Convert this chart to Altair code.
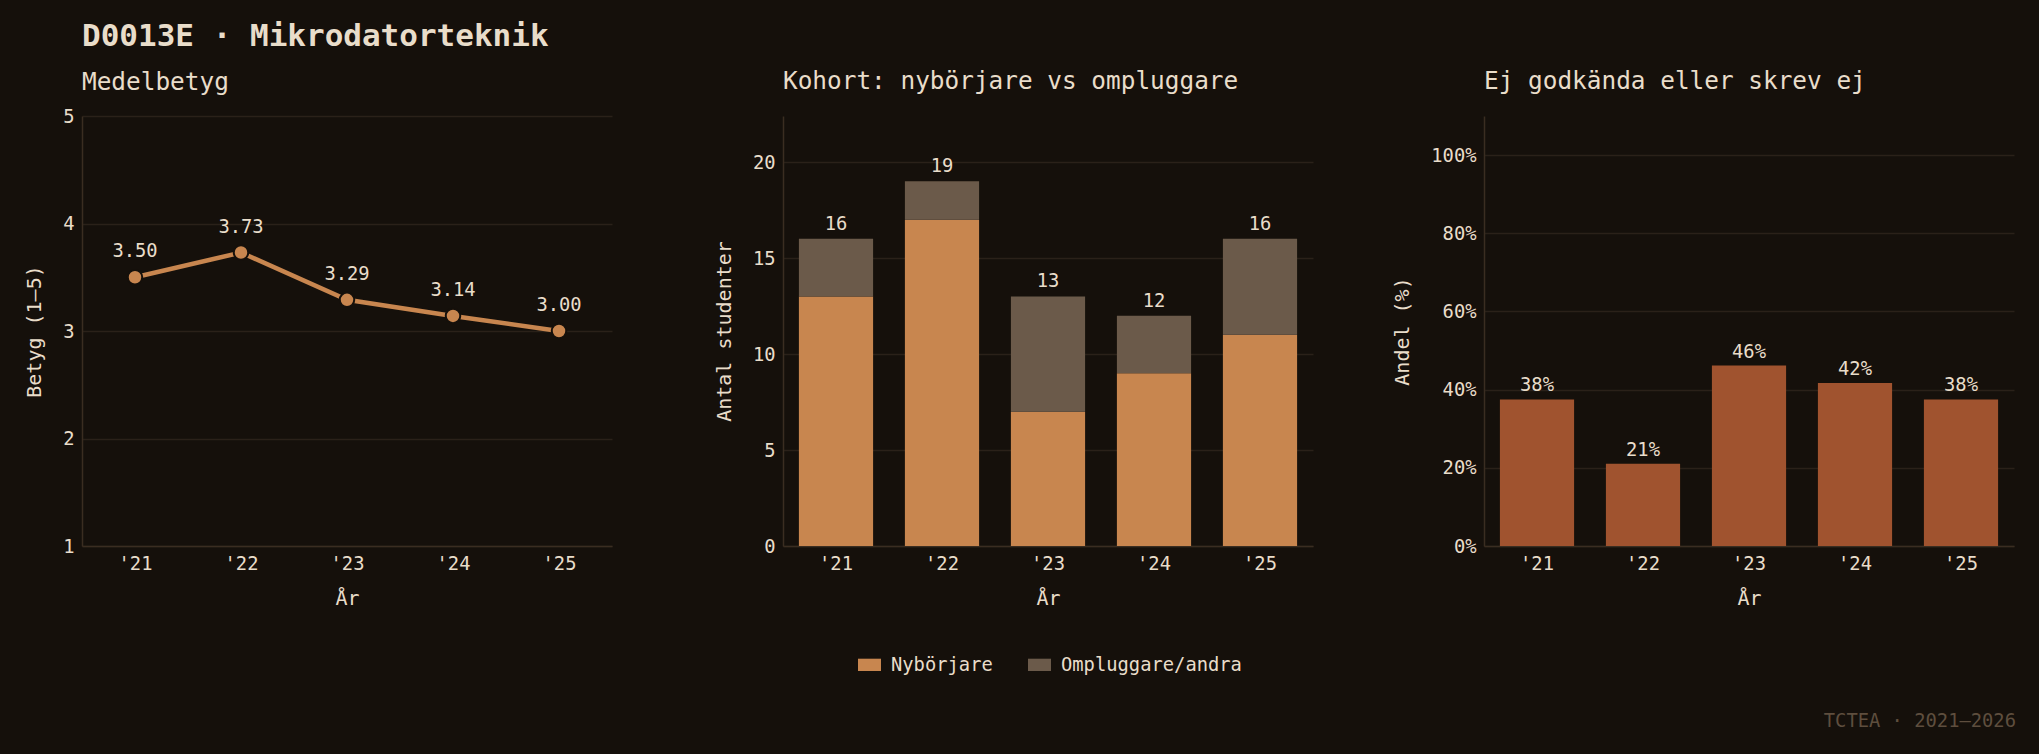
import altair as alt
import pandas as pd

# ---- data ----
years = ["'21", "'22", "'23", "'24", "'25"]
avg_grade = [3.50, 3.73, 3.29, 3.14, 3.00]
new_students = [13, 17, 7, 9, 11]
returning = [3, 2, 6, 3, 5]
failed_or_absent = [6, 4, 6, 5, 6]
groups = ["Nybörjare", "Ompluggare/andra"]
footer = ["TCTEA · 2021–2026"]

# ---- style ----
BG = "#15100b"
TEXT = "#e9ddca"
ORANGE = "#c8864f"
GREY = "#6b5a4a"
SIENNA = "#a0532f"
GRID = "#2a2119"
DOMAIN = "#3a2d21"
MUTED = "#5e4e3e"
FONT = "DejaVu Sans Mono"
FS = 18.8
W, H = 530, 430

totals = [a + b for a, b in zip(new_students, returning)]
grade_df = pd.DataFrame({"year": years, "grade": avg_grade})
cohort_df = pd.DataFrame({
    "year": years * 2,
    "group": [groups[0]] * 5 + [groups[1]] * 5,
    "count": new_students + returning,
    "ord": [0] * 5 + [1] * 5,
})
total_df = pd.DataFrame({"year": years, "total": totals})
fail_df = pd.DataFrame({"year": years,
                        "rate": [f / t for f, t in zip(failed_or_absent, totals)]})
footer_df = pd.DataFrame({"t": footer})


def panel_title(text, offset=22):
    return alt.TitleParams(text, anchor="start", frame="group", fontSize=24.4,
                           fontWeight="normal", font=FONT, color=TEXT, offset=offset)


# ---- panel 1: line ----
x1 = alt.X("year:N", sort=years, title="År", axis=alt.Axis(labelAngle=0))
y1 = alt.Y("grade:Q", scale=alt.Scale(domain=[1, 5]),
           axis=alt.Axis(values=[1, 2, 3, 4, 5], title="Betyg (1–5)"))
base1 = alt.Chart(grade_df).encode(x=x1, y=y1)
line = base1.mark_line(color=ORANGE, strokeWidth=4.5)
pts = base1.mark_circle(color=ORANGE, size=210, opacity=1, stroke=BG, strokeWidth=2)
lbl1 = base1.mark_text(color=TEXT, fontSize=FS, dy=-20, baseline="alphabetic",
                       font=FONT).encode(text=alt.Text("grade:Q", format=".2f"))
p1 = alt.layer(line, pts, lbl1).properties(width=W, height=H,
                                           title=panel_title("Medelbetyg", 12))

# ---- panel 2: stacked bars ----
xb = alt.X("year:N", sort=years, title="År",
           scale=alt.Scale(paddingInner=0.3, paddingOuter=0.15),
           axis=alt.Axis(labelAngle=0))
y2axis = alt.Axis(values=[0, 5, 10, 15, 20], title="Antal studenter")
y2scale = alt.Scale(domain=[0, 22.4])
bars2 = alt.Chart(cohort_df).mark_bar().encode(
    x=xb,
    y=alt.Y("count:Q", stack="zero", scale=y2scale, axis=y2axis),
    color=alt.Color("group:N", scale=alt.Scale(domain=groups, range=[ORANGE, GREY]),
                    legend=alt.Legend(title=None, orient="none", legendX=75, legendY=537,
                                      direction="horizontal",
                                      symbolType="M-1,-0.535H1V0.535H-1Z",
                                      symbolSize=529, symbolStrokeWidth=0,
                                      labelFont=FONT, labelFontSize=FS, labelColor=TEXT,
                                      labelOffset=10, columnPadding=35, labelLimit=400)),
    order=alt.Order("ord:Q", sort="ascending"),
)
tot2 = alt.Chart(total_df).mark_text(color=TEXT, fontSize=FS, dy=-9,
                                     baseline="alphabetic", font=FONT).encode(
    x=xb, y=alt.Y("total:Q", scale=y2scale, axis=y2axis), text="total:Q")
p2 = alt.layer(bars2, tot2).properties(
    width=W, height=H, title=panel_title("Kohort: nybörjare vs ompluggare"))

# ---- panel 3: fail rate ----
y3scale = alt.Scale(domain=[0, 1.1])
y3axis = alt.Axis(values=[0, 0.2, 0.4, 0.6, 0.8, 1.0], format=".0%", title="Andel (%)")
bars3 = alt.Chart(fail_df).mark_bar(color=SIENNA).encode(
    x=xb, y=alt.Y("rate:Q", scale=y3scale, axis=y3axis))
lbl3 = alt.Chart(fail_df).mark_text(color=TEXT, fontSize=FS, dy=-8,
                                    baseline="alphabetic", font=FONT).encode(
    x=xb, y=alt.Y("rate:Q", scale=y3scale, axis=y3axis),
    text=alt.Text("rate:Q", format=".0%"))
foot = alt.Chart(footer_df).mark_text(align="right", baseline="alphabetic", fontSize=FS,
                                      color=MUTED, font=FONT).encode(
    x=alt.value(W + 2), y=alt.value(611), text="t:N")
p3 = alt.layer(bars3, lbl3, foot).properties(
    width=W, height=H, title=panel_title("Ej godkända eller skrev ej"))

chart = (
    alt.hconcat(p1, p2, p3, spacing=171, bounds="flush")
    .resolve_scale(color="independent")
    .properties(
        title=alt.TitleParams("D0013E · Mikrodatorteknik", anchor="start", frame="group",
                              fontSize=31, fontWeight="bold", font=FONT, color=TEXT,
                              offset=16),
        background=BG,
        padding={"left": 16, "top": 12, "right": 10, "bottom": 10},
    )
    .configure_view(stroke=None)
    .configure_axis(domainColor=DOMAIN, domainWidth=1.5, gridColor=GRID, gridWidth=1.5,
                    ticks=False, labelColor=TEXT, titleColor=TEXT, labelFont=FONT,
                    titleFont=FONT, labelFontSize=FS, titleFontSize=20,
                    titleFontWeight="normal", labelPadding=8)
    .configure_axisX(grid=False, titlePadding=16)
    .configure_axisY(titlePadding=18)
)

chart.save("out.html", embed_options={"renderer": "svg", "actions": False,
                                      "defaultStyle": "body{background:#15100b;}"})
